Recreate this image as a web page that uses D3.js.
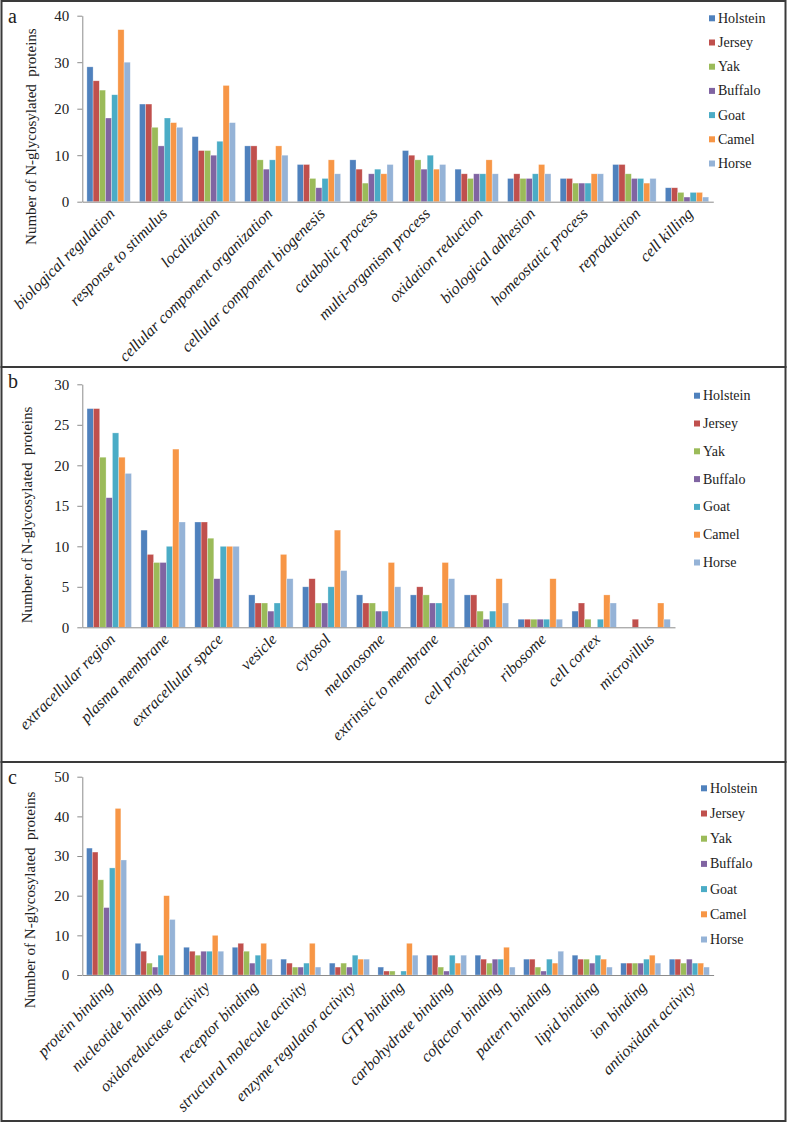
<html>
<head>
<script src="https://d3js.org/d3.v7.min.js"></script>
<style>
body { margin:0; background:#fff; }
text { font-family: "Liberation Serif", "Times New Roman", serif; fill:#222; }
</style>
</head>
<body>
<div id="chart"></div>
<script>
	// series, in legend order
	var seriesNames = ["Holstein", "Jersey", "Yak", "Buffalo", "Goat", "Camel", "Horse"];
	var seriesColors = ["#4f81bd", "#c0504d", "#9bbb59", "#8064a2", "#4bacc6", "#f79646", "#95b3d7"];

	// panel a : biological process
	var categoriesA = ["biological regulation", "response to stimulus", "localization",
		"cellular component organization", "cellular component biogenesis", "catabolic process",
		"multi-organism process", "oxidation reduction", "biological adhesion",
		"homeostatic process", "reproduction", "cell killing"];
	var valuesA = [
		[29, 26, 24, 18, 23, 37, 30],
		[21, 21, 16, 12, 18, 17, 16],
		[14, 11, 11, 10, 13, 25, 17],
		[12, 12, 9, 7, 9, 12, 10],
		[8, 8, 5, 3, 5, 9, 6],
		[9, 7, 4, 6, 7, 6, 8],
		[11, 10, 9, 7, 10, 7, 8],
		[7, 6, 5, 6, 6, 9, 6],
		[5, 6, 5, 5, 6, 8, 6],
		[5, 5, 4, 4, 4, 6, 6],
		[8, 8, 6, 5, 5, 4, 5],
		[3, 3, 2, 1, 2, 2, 1]
	];
	var ticksA = [0, 10, 20, 30, 40];

	// panel b : cellular component
	var categoriesB = ["extracellular region", "plasma membrane", "extracellular space", "vesicle",
		"cytosol", "melanosome", "extrinsic to membrane", "cell projection", "ribosome",
		"cell cortex", "microvillus"];
	var valuesB = [
		[27, 27, 21, 16, 24, 21, 19],
		[12, 9, 8, 8, 10, 22, 13],
		[13, 13, 11, 6, 10, 10, 10],
		[4, 3, 3, 2, 3, 9, 6],
		[5, 6, 3, 3, 5, 12, 7],
		[4, 3, 3, 2, 2, 8, 5],
		[4, 5, 4, 3, 3, 8, 6],
		[4, 4, 2, 1, 2, 6, 3],
		[1, 1, 1, 1, 1, 6, 1],
		[2, 3, 1, 0, 1, 4, 3],
		[0, 1, 0, 0, 0, 3, 1]
	];
	var ticksB = [0, 5, 10, 15, 20, 25, 30];

	// panel c : molecular function
	var categoriesC = ["protein binding", "nucleotide binding", "oxidoreductase activity",
		"receptor binding", "structural molecule activity", "enzyme regulator activity",
		"GTP binding", "carbohydrate binding", "cofactor binding", "pattern binding",
		"lipid binding", "ion binding", "antioxidant activity"];
	var valuesC = [
		[32, 31, 24, 17, 27, 42, 29],
		[8, 6, 3, 2, 5, 20, 14],
		[7, 6, 5, 6, 6, 10, 6],
		[7, 8, 6, 3, 5, 8, 4],
		[4, 3, 2, 2, 3, 8, 2],
		[3, 2, 3, 2, 5, 4, 4],
		[2, 1, 1, 0, 1, 8, 5],
		[5, 5, 2, 1, 5, 3, 5],
		[5, 4, 3, 4, 4, 7, 2],
		[4, 4, 2, 1, 4, 3, 6],
		[5, 4, 4, 3, 5, 4, 2],
		[3, 3, 3, 3, 4, 5, 3],
		[4, 4, 3, 4, 3, 3, 2]
	];
	var ticksC = [0, 10, 20, 30, 40, 50];

	var yTitle = "Number of N-glycosylated  proteins";

	var width = 787, height = 1123;
	var serif = "'Liberation Serif', 'Times New Roman', serif";
	var svg = d3.select("#chart").append("svg")
		.attr("width", width)
		.attr("height", height);

	// layout of each panel (box, plot area, legend)
	var panels = [
		{label:"a", cats:categoriesA, vals:valuesA, ticks:ticksA,
		 box:[1, 367], top:15.7, bottom:201.7, left:82.3, right:713.3,
		 labelY:23, titleX:36, titleY:28.3, legX:709, legY:18.3, legStep:24.2},
		{label:"b", cats:categoriesB, vals:valuesB, ticks:ticksB,
		 box:[367, 762], top:384.3, bottom:627.3, left:82.3, right:675,
		 labelY:388.3, titleX:32, titleY:406.7, legX:694, legY:395.7, legStep:27.8},
		{label:"c", cats:categoriesC, vals:valuesC, ticks:ticksC,
		 box:[762, 1121], top:776.7, bottom:975, left:82.3, right:713.6,
		 labelY:784.3, titleX:35, titleY:791.7, legX:701, legY:788.3, legStep:25.2}
	];

	panels.forEach(function(p){
		var g = svg.append("g");

		// frame
		g.append("rect")
			.attr("x", 1.5).attr("y", p.box[0])
			.attr("width", width - 3).attr("height", p.box[1] - p.box[0])
			.attr("fill", "none").attr("stroke", "#3a3a3a").attr("stroke-width", 2);

		var y = d3.scaleLinear()
			.domain([p.ticks[0], p.ticks[p.ticks.length - 1]])
			.range([p.bottom, p.top]);

		var x0 = d3.scaleBand()
			.domain(p.cats)
			.range([p.left, p.right])
			.paddingInner(0.175)
			.paddingOuter(0.0875);

		var x1 = d3.scaleBand()
			.domain(seriesNames)
			.range([0, x0.bandwidth()]);

		// bars
		var groups = g.append("g").selectAll("g")
			.data(p.cats)
			.enter().append("g")
			.attr("transform", function(d){ return "translate(" + x0(d) + ",0)"; });

		groups.selectAll("rect")
			.data(function(d, i){
				return seriesNames.map(function(s, j){ return {series:s, idx:j, value:p.vals[i][j]}; });
			})
			.enter().append("rect")
			.attr("x", function(d){ return x1(d.series); })
			.attr("y", function(d){ return y(d.value); })
			.attr("width", x1.bandwidth())
			.attr("height", function(d){ return p.bottom - y(d.value); })
			.attr("fill", function(d){ return seriesColors[d.idx]; })
			.attr("stroke", "#fff").attr("stroke-opacity", 0.5).attr("stroke-width", 0.6);

		// y axis
		var yAxis = d3.axisLeft(y)
			.tickValues(p.ticks)
			.tickSize(5)
			.tickSizeOuter(0)
			.tickPadding(8);
		var ya = g.append("g")
			.attr("transform", "translate(" + p.left + ",0)")
			.call(yAxis);
		ya.select(".domain").attr("stroke", "#8c8c8c");
		ya.selectAll(".tick line").attr("stroke", "#8c8c8c");
		ya.selectAll(".tick text")
			.style("font-family", serif)
			.style("font-size", "15px")
			.attr("fill", "#222");

		// x axis line, no ticks
		var xAxis = d3.axisBottom(x0).tickSize(0).tickSizeOuter(0).tickFormat("");
		var xa = g.append("g")
			.attr("transform", "translate(0," + p.bottom + ")")
			.call(xAxis);
		xa.select(".domain").attr("stroke", "#8c8c8c");

		// category labels, rotated
		g.append("g").selectAll("text")
			.data(p.cats)
			.enter().append("text")
			.attr("transform", function(d){
				return "translate(" + (x0(d) + x0.bandwidth() / 2 + 7) + "," + (p.bottom + 13) + ") rotate(-45)";
			})
			.attr("text-anchor", "end")
			.style("font-family", serif)
			.style("font-style", "italic")
			.style("font-size", "16px")
			.text(function(d){ return d; });

		// y title
		g.append("text")
			.attr("transform", "translate(" + p.titleX + "," + p.titleY + ") rotate(-90)")
			.attr("text-anchor", "end")
			.style("font-family", serif)
			.style("font-size", "15px")
			.style("white-space", "pre")
			.text(yTitle);

		// panel letter
		g.append("text")
			.attr("x", 8).attr("y", p.labelY)
			.style("font-family", serif)
			.style("font-size", "20px")
			.text(p.label);

		// legend
		var leg = g.append("g").selectAll("g")
			.data(seriesNames)
			.enter().append("g")
			.attr("transform", function(d, i){ return "translate(" + p.legX + "," + (p.legY + i * p.legStep) + ")"; });
		leg.append("rect")
			.attr("x", 0).attr("y", -3)
			.attr("width", 6).attr("height", 6)
			.attr("fill", function(d, i){ return seriesColors[i]; });
		leg.append("text")
			.attr("x", 9).attr("y", 4.5)
			.style("font-family", serif)
			.style("font-size", "14px")
			.text(function(d){ return d; });
	});
</script>
</body>
</html>
